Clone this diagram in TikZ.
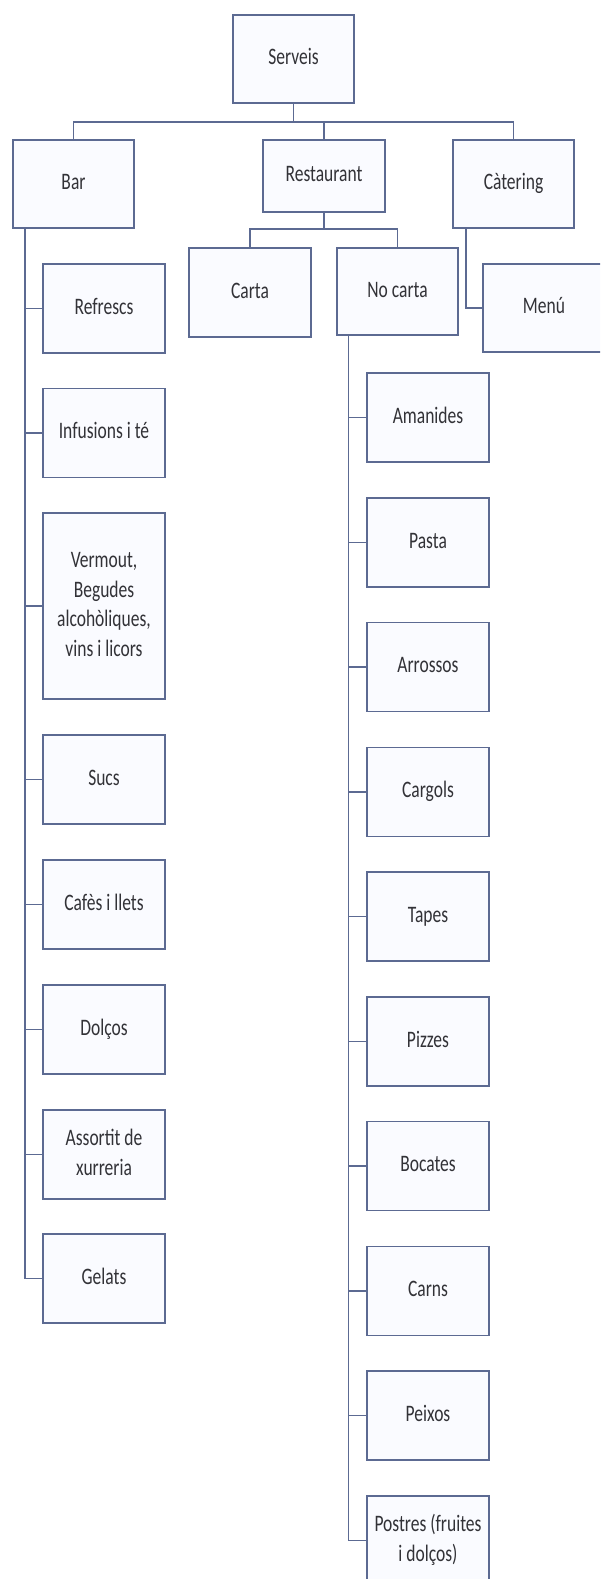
\documentclass[tikz,border=0pt]{standalone}
\usepackage{fontspec}
\setmainfont{Carlito}
\usepackage{graphicx}
\definecolor{linec}{RGB}{92,106,146}
\definecolor{boxfill}{RGB}{250,251,255}
\definecolor{txt}{RGB}{50,50,55}
\newcommand\lbl[1]{\scalebox{1}[1.35]{\begin{tabular}{@{}c@{}}#1\end{tabular}}}
\tikzset{
  box/.style={draw=linec, line width=1.5pt, fill=boxfill, inner sep=0pt,
    minimum width=122pt, minimum height=89pt, text=txt,
    font=\fontsize{17.5}{22}\selectfont},
  link/.style={draw=linec, line width=1.5pt},
}
\begin{document}
\begin{tikzpicture}[x=1pt, y=-1pt]
\useasboundingbox (0,0) rectangle (600,1579);
\clip (0,0) rectangle (600,1579);
\fill[white] (0,0) rectangle (600,1579);

% top levels
\node[box, minimum width=121pt, minimum height=88pt] (serveis) at (293.5,59) {\lbl{Serveis}};
\node[box, minimum width=121pt, minimum height=88pt] (bar) at (73.5,184) {\lbl{Bar}};
\node[box, minimum height=72pt] (rest) at (324,176) {\lbl{Restaurant}};
\node[box, minimum width=121pt, minimum height=88pt] (cat) at (513.5,184) {\lbl{Càtering}};

\node[box] (carta) at (250,292.5) {\lbl{Carta}};
\node[box, minimum width=121pt, minimum height=87pt] (nocarta) at (397.5,291.5) {\lbl{No carta}};
% Menú runs past the right edge of the page
\node[box, minimum width=136pt, minimum height=88pt] (menu) at (551,308) {\lbl{Menú}\hspace*{14pt}};

% connectors from Serveis
\coordinate (j0) at (293.5,122);
\draw[link] (serveis.south) -- (j0);
\draw[link] (bar.north) -- (bar.north |- j0) -- (cat.north |- j0) -- (cat.north);
\draw[link] (rest.north |- j0) -- (rest.north);

% connectors from Restaurant
\coordinate (j1) at (324,229);
\draw[link] (rest.south) -- (j1);
\draw[link] (carta.north) -- (carta.north |- j1) -- (nocarta.north |- j1) -- (nocarta.north);

% connector from Càtering
\coordinate (cl) at (466,228);
\draw[link] (cl) |- (menu.west);

% Bar items
\node[box] (b1) at (104,308.5) {\lbl{Refrescs}};
\node[box] (b2) at (104,433) {\lbl{Infusions i té}};
\node[box, minimum height=186pt] (b3) at (104,606) {\lbl{Vermout,\\Begudes\\alcohòliques,\\vins i licors}};
\node[box] (b4) at (104,779.5) {\lbl{Sucs}};
\node[box] (b5) at (104,904.5) {\lbl{Cafès i llets}};
\node[box] (b6) at (104,1029.5) {\lbl{Dolços}};
\node[box] (b7) at (104,1154.5) {\lbl{Assortit de\\xurreria}};
\node[box] (b8) at (104,1278.5) {\lbl{Gelats}};

\coordinate (bl) at (25,228);
\draw[link] (bl) |- (b8.west);
\foreach \n in {b1,b2,b3,b4,b5,b6,b7}
  \draw[link] (bl |- \n.west) -- (\n.west);

% No carta items
\node[box] (r1) at (428,417.5) {\lbl{Amanides}};
\node[box] (r2) at (428,542.25) {\lbl{Pasta}};
\node[box] (r3) at (428,667) {\lbl{Arrossos}};
\node[box] (r4) at (428,791.75) {\lbl{Cargols}};
\node[box] (r5) at (428,916.5) {\lbl{Tapes}};
\node[box] (r6) at (428,1041.25) {\lbl{Pizzes}};
\node[box] (r7) at (428,1166) {\lbl{Bocates}};
\node[box] (r8) at (428,1290.75) {\lbl{Carns}};
\node[box] (r9) at (428,1415.5) {\lbl{Peixos}};
\node[box] (r10) at (428,1540.25) {\lbl{Postres (fruites\\i dolços)}};

\coordinate (rl) at (348.5,335);
\draw[link] (rl) |- (r10.west);
\foreach \n in {r1,r2,r3,r4,r5,r6,r7,r8,r9}
  \draw[link] (rl |- \n.west) -- (\n.west);
\end{tikzpicture}
\end{document}
